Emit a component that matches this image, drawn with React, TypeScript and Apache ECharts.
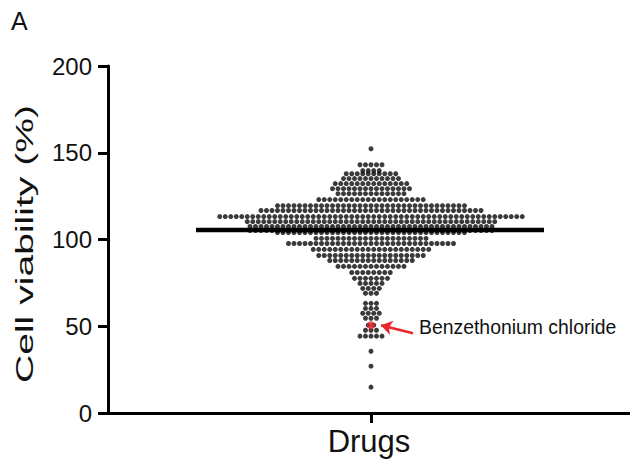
import React, { useEffect, useRef } from "react";
import * as echarts from "echarts";

// Cell viability (%) levels of the swarm rows and the number of drugs in each row
const rowValues = [
  152.3, 143.1, 139.7, 137.9, 135.1, 132.2, 129.3, 126.4, 123.0, 119.5, 116.7,
  113.2, 110.3, 107.5, 105.2, 104.0, 100.6, 97.7, 94.3, 90.8, 87.9, 84.5, 81.0,
  77.6, 74.7, 71.8, 69.0, 63.2, 60.3, 57.5, 54.6, 50.6, 47.7, 44.3, 35.6, 27.0,
  14.9,
];
const rowCounts = [
  1, 5, 4, 10, 11, 14, 15, 13, 20, 35, 41, 56, 46, 45, 45, 35, 21, 31, 22, 20,
  16, 13, 8, 7, 5, 4, 3, 3, 3, 4, 3, 2, 3, 5, 1, 1, 1,
];
const highlightName = "Benzethonium chloride";
const highlightValue = 50.6;
const medianValue = 105.5;
const yTicks = [0, 50, 100, 150, 200];
const categoryLabel = "Drugs";
const yLabel = "Cell viability (%)";
const panelLabel = "A";

const DOT_GAP = 5.5;
const MEDIAN_LEFT = -175;
const MEDIAN_RIGHT = 173;

export default function App() {
  const ref = useRef<HTMLDivElement>(null);
  useEffect(() => {
    if (!ref.current) return;
    const chart = echarts.init(ref.current, null, { renderer: "svg" });
    const points: number[][] = [];
    rowValues.forEach((v, r) => {
      const n = rowCounts[r];
      for (let i = 0; i < n; i++) {
        points.push([(i - (n - 1) / 2) * DOT_GAP, v]);
      }
    });
    const fam = "Liberation Sans";
    chart.setOption({
      animation: false,
      title: [
        {
          text: panelLabel,
          left: 11,
          top: 8,
          padding: 0,
          textStyle: { fontSize: 25, fontWeight: "normal", color: "#111", fontFamily: fam },
        },
        {
          text: highlightName,
          left: 419,
          top: 317,
          padding: 0,
          textStyle: { fontSize: 19.4, fontWeight: "normal", color: "#111", fontFamily: fam },
        },
      ],
      grid: { left: 108, right: 0, top: 66, bottom: 54, outerBoundsMode: "none" },
      xAxis: {
        type: "value",
        min: -263,
        max: 259,
        axisLine: { show: true, onZero: false, lineStyle: { color: "#000", width: 3 } },
        axisTick: { show: true, customValues: [0], length: 10, lineStyle: { color: "#000", width: 3 } },
        axisLabel: { show: false },
        splitLine: { show: false },
        name: categoryLabel,
        nameLocation: "middle",
        nameGap: 13,
        nameTextStyle: { fontSize: 31, color: "#111", fontFamily: fam },
      },
      yAxis: {
        type: "value",
        min: yTicks[0],
        max: yTicks[yTicks.length - 1],
        interval: 50,
        axisLine: { show: true, onZero: false, lineStyle: { color: "#000", width: 3 } },
        axisTick: { show: true, length: 10, lineStyle: { color: "#000", width: 3 } },
        axisLabel: { fontSize: 24, color: "#111", margin: 16, fontFamily: fam },
        splitLine: { show: false },
      },
      graphic: [
        {
          type: "text",
          x: 25,
          y: 244,
          rotation: Math.PI / 2,
          scaleX: 1.63,
          style: {
            text: yLabel,
            fontSize: 24,
            fontFamily: fam,
            fill: "#111",
            align: "center",
            verticalAlign: "middle",
          },
        },
      ],
      series: [
        {
          type: "scatter",
          data: points,
          symbolSize: 5,
          itemStyle: { color: "#0a0a0a" },
          z: 2,
        },
        {
          type: "line",
          data: [
            [MEDIAN_LEFT, medianValue],
            [MEDIAN_RIGHT, medianValue],
          ],
          symbol: "none",
          lineStyle: { color: "#000", width: 4.5 },
          z: 3,
        },
        {
          type: "scatter",
          data: [[0, highlightValue]],
          symbolSize: 8,
          itemStyle: { color: "#e8262b" },
          z: 4,
          markLine: {
            silent: true,
            symbol: ["none", "arrow"],
            symbolSize: [11, 11],
            label: { show: false },
            lineStyle: { color: "#e8262b", width: 2.5, type: "solid" },
            data: [[{ coord: [42, highlightValue - 4.6] }, { coord: [10, highlightValue] }]],
          },
        },
      ],
    });
    return () => chart.dispose();
  }, []);
  return (
    <div
      ref={ref}
      style={{ position: "fixed", left: 0, top: 0, width: 630, height: 467, background: "#fff" }}
    />
  );
}
